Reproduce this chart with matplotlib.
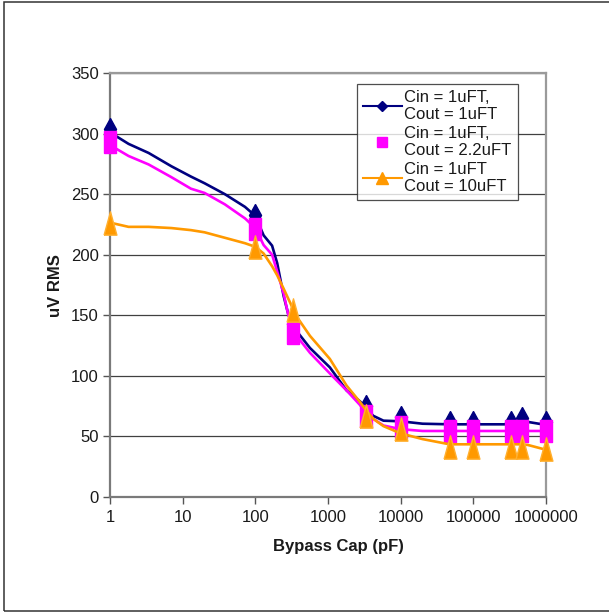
import matplotlib
matplotlib.use("Agg")
import matplotlib.pyplot as plt
import matplotlib.path as mpath
from matplotlib.lines import Line2D
from matplotlib.patches import Rectangle

plt.rcParams['font.family'] = ['Liberation Sans', 'DejaVu Sans']

# ---- data ----
series_labels = ["Cin = 1uFT,\nCout = 1uFT",
                 "Cin = 1uFT,\nCout = 2.2uFT",
                 "Cin = 1uFT\nCout = 10uFT"]
series_colors = ["#000080", "#FF00FF", "#FF9900"]

# measured points (markers)
marker_x = [1, 100, 330, 3300, 10000, 47000, 100000, 330000, 470000, 1000000]
marker_navy = [303.5, 232.5, 143, 75, 66, 62, 62, 62, 65, 62]
marker_magenta = [293, 221.6, 135.6, 66.5, 58, 54.5, 54.5, 54.5, 54.5, 54.5]
marker_orange = [226, 206, 154, 66.5, 56.5, 41, 41, 41, 41, 39.5]

# smoothed curves
line_x = [1, 1.8, 3.4, 7, 13, 20, 38, 72, 100, 130, 170, 200, 245, 285, 370,
          565, 1060, 1800, 2750, 3300, 4200, 5800, 10000, 20000, 47000,
          100000, 330000, 420000, 560000, 1000000]
line_navy = [301, 291.5, 284, 273, 264.5, 259, 250, 239.5, 232, 216, 207.5,
             193, 166, 150.5, 137, 123, 107, 88, 79, 74, 67, 63, 62.5, 60.5,
             60, 60, 60, 62, 62, 59.5]
line_magenta = [290.5, 281.5, 274.5, 264, 254.5, 251, 241.6, 230, 222, 208,
                200, 186, 168, 150, 133, 119, 102, 88, 76, 71, 64.5, 59, 56,
                54.5, 54.5, 54.5, 54.5, 54.5, 54.5, 54.5]
line_orange = [226.5, 223, 223, 222, 220.3, 218.5, 214, 209.5, 206.5, 201,
               190.5, 183, 172, 163.5, 149, 133, 114, 92, 78.5, 72, 64.5, 58.5,
               52.5, 47.8, 43.5, 43.5, 43.5, 43.5, 43, 39]

x_ticks = [1, 10, 100, 1000, 10000, 100000, 1000000]
x_ticklabels = ["1", "10", "100", "1000", "10000", "100000", "1000000"]
y_ticks = [0, 50, 100, 150, 200, 250, 300, 350]

# ---- figure ----
W, H = 609, 613
fig = plt.figure(figsize=(W / 100, H / 100), dpi=100)
fig.patch.set_facecolor("white")

# outer chart border
fig.patches.append(Rectangle((4 / W, 2 / H), 1.2, 609 / H, transform=fig.transFigure,
                             fill=False, edgecolor="#333333", linewidth=1.1))

ax = fig.add_axes([110 / W, (H - 497) / H, 436 / W, 424 / H])
ax.set_xscale("log")
ax.set_xlim(1, 1000000)
ax.set_ylim(0, 350)

# tall marker shapes (as in the picture)
tri = mpath.Path([(-0.55, -1), (0.55, -1), (0, 1), (-0.55, -1)])
sq = mpath.Path([(-0.57, -1), (0.57, -1), (0.57, 1), (-0.57, 1), (-0.57, -1)])
dia = mpath.Path([(0, 1), (0.55, 0), (0, -1), (-0.55, 0), (0, 1)])

lw = 1.9
# series 1
ax.plot(line_x, line_navy, color=series_colors[0], lw=lw, zorder=3, clip_on=False)
ax.plot(marker_x, marker_navy, ls="none", marker=dia, ms=15.8,
        color=series_colors[0], zorder=3.1, clip_on=False)
# series 2
ax.plot(line_x, line_magenta, color=series_colors[1], lw=lw, zorder=4, clip_on=False)
ax.plot(marker_x, marker_magenta, ls="none", marker=sq, ms=15.6,
        color=series_colors[1], zorder=4.1, clip_on=False)
# series 3
ax.plot(line_x, line_orange, color=series_colors[2], lw=lw, zorder=5, clip_on=False)
ax.plot(marker_x, marker_orange, ls="none", marker=tri, ms=16.8,
        color=series_colors[2], mec="#FFB030", zorder=5.1, clip_on=False)

# grid / axes styling
ax.set_yticks(y_ticks)
ax.set_xticks(x_ticks)
ax.set_xticklabels(x_ticklabels)
ax.xaxis.set_minor_locator(matplotlib.ticker.NullLocator())
for yv in y_ticks[1:]:
    ax.axhline(yv, color="#404040", lw=0.9, zorder=1)
for s in ["left", "bottom"]:
    ax.spines[s].set_color("#7a7a7a")
    ax.spines[s].set_linewidth(1.6)
for s in ["right", "top"]:
    ax.spines[s].set_color("#9a9a9a")
    ax.spines[s].set_linewidth(1.6)
ax.tick_params(axis="both", which="major", labelsize=12, color="#555555",
               length=5, width=1.0, direction="out", labelcolor="#1a1a1a")
ax.tick_params(axis="x", pad=4)
ax.tick_params(axis="y", pad=3)

fig.text(56 / W, 1 - 286 / H, "uV RMS", rotation=90, ha="center", va="center",
         fontsize=12, fontweight="bold", color="#1a1a1a")
fig.text(338 / W, 1 - 547 / H, "Bypass Cap (pF)", ha="center", va="center",
         fontsize=12, fontweight="bold", color="#1a1a1a")

# legend
handles = [
    Line2D([], [], color=series_colors[0], lw=1.5, marker="D", ms=5.2),
    Line2D([], [], ls="none", color=series_colors[1], marker="s", ms=7.2),
    Line2D([], [], color=series_colors[2], lw=1.5, marker="^", ms=8.6),
]
leg = ax.legend(handles, series_labels, loc="upper left",
                bbox_to_anchor=((357 - 110) / 436, (497 - 84) / 424),
                borderaxespad=0, frameon=True, fancybox=False, shadow=False,
                edgecolor="#222222", fontsize=12, handlelength=2.35,
                handletextpad=0.15, borderpad=0.35, labelspacing=0.22)
leg.get_frame().set_linewidth(0.9)
leg.set_zorder(10)
for t in leg.get_texts():
    t.set_linespacing(1.2)
    t.set_color("#1a1a1a")

fig.savefig("out.png", dpi=100)
